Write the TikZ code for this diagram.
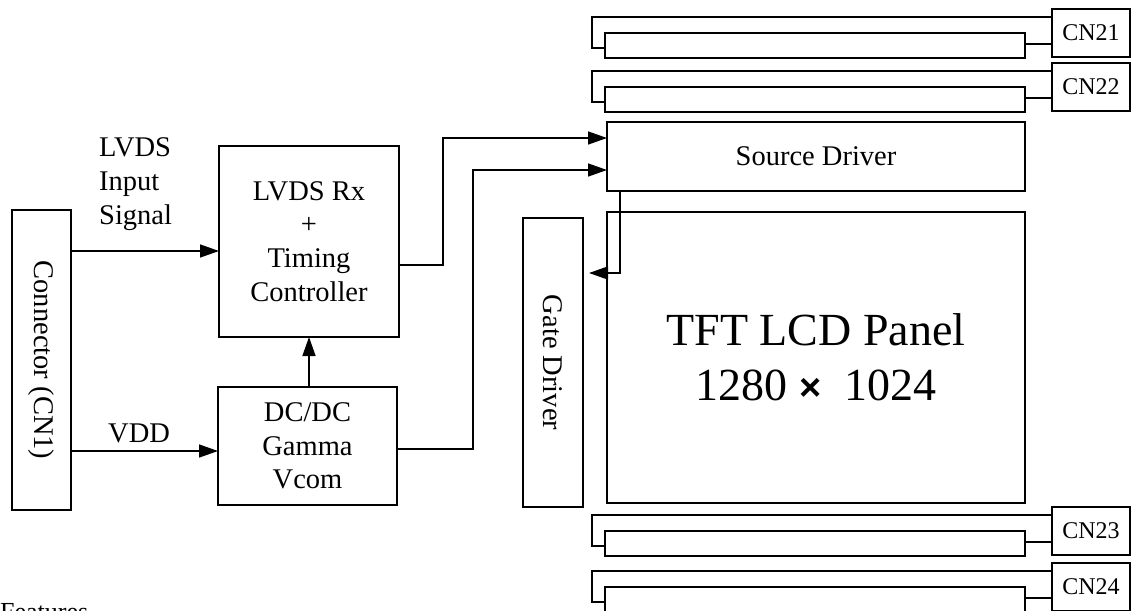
\documentclass[tikz,border=0pt]{standalone}
\usepackage{fontspec}
\setmainfont{Liberation Serif}
\newfontfamily\timesfont{Liberation Sans}
\usetikzlibrary{arrows.meta,calc}
\begin{document}
\begin{tikzpicture}[x=1pt,y=-1pt,
  box/.style={draw, line width=1.5pt, inner sep=0pt, outer sep=0pt},
  lin/.style={line width=1.5pt},
  arr/.style={line width=1.5pt, -{Triangle[length=19pt,width=13pt]}},
  txt/.style={font=\fontsize{28.5}{33.7}\selectfont, align=center, inner sep=0pt}]
\useasboundingbox (0,0) rectangle (1131,610);

% main blocks
\node[box, minimum width=59pt, minimum height=300pt,
      label={[txt, rotate=-90]center:Connector (CN1)}] (cn1) at (41.5,360) {};
\node[box, txt, minimum width=180pt, minimum height=191pt] (lvds) at (309,241.5)
  {LVDS Rx\\+\\Timing\\Controller};
\node[box, txt, minimum width=179pt, minimum height=118pt] (dcdc) at (307.5,446)
  {DC/DC\\Gamma\\Vcom};
\node[box, txt, minimum width=418pt, minimum height=69pt] (src) at (816,156.5)
  {Source Driver};
\node[box, minimum width=60pt, minimum height=289pt,
      label={[txt, rotate=-90]center:Gate Driver}] (gate) at (553,362.5) {};
\node[box, minimum width=418pt, minimum height=291pt, align=center,
      font=\fontsize{46}{55}\selectfont] (panel) at (816,357.5)
  {TFT LCD Panel\\1280~{\timesfont\bfseries\fontsize{38}{40}\selectfont ×}~~1024};

% labels
\node[txt, align=left, anchor=west] (lvdslbl) at (99,184) {LVDS\\Input\\Signal};
\node[txt, anchor=base west] (vddlbl) at (108,442) {VDD};
\node[font=\fontsize{26}{30}\selectfont, inner sep=0pt, anchor=base west] (feat) at (0,620) {Features};

% connectors
\draw[arr] (cn1.east |- 0,251) -- (lvds.west |- 0,251);
\draw[arr] (cn1.east |- 0,451) -- (dcdc.west |- 0,451);
\draw[arr] (dcdc.north -| 309,0) -- (lvds.south -| 309,0);
\draw[arr] (lvds.east |- 0,265) -| (443,138) -- (src.west |- 0,138);
\draw[arr] (dcdc.east |- 0,449) -| (473,170) -- (src.west |- 0,170);
\coordinate (gtip) at (589,273);
\draw[arr] (src.south -| 620,0) |- (gtip);

% flex cables and connectors CN21..CN24
\foreach \n/\b in {21/9,22/63,23/507,24/563}{
  \node[box, font=\fontsize{24}{28}\selectfont, minimum width=78pt, minimum height=48pt] (cn\n) at (1091,\b+24) {CN\n};
  \node[box, minimum width=420pt, minimum height=25pt] (in\n) at (815,\b+36.5) {};
  \draw[lin] (cn\n.west |- 0,\b+8) -- (592,\b+8) -- (592,\b+39) -- (in\n.west |- 0,\b+39);
  \draw[lin] (in\n.east |- 0,\b+35) -- (cn\n.west |- 0,\b+35);
}
\end{tikzpicture}
\end{document}
